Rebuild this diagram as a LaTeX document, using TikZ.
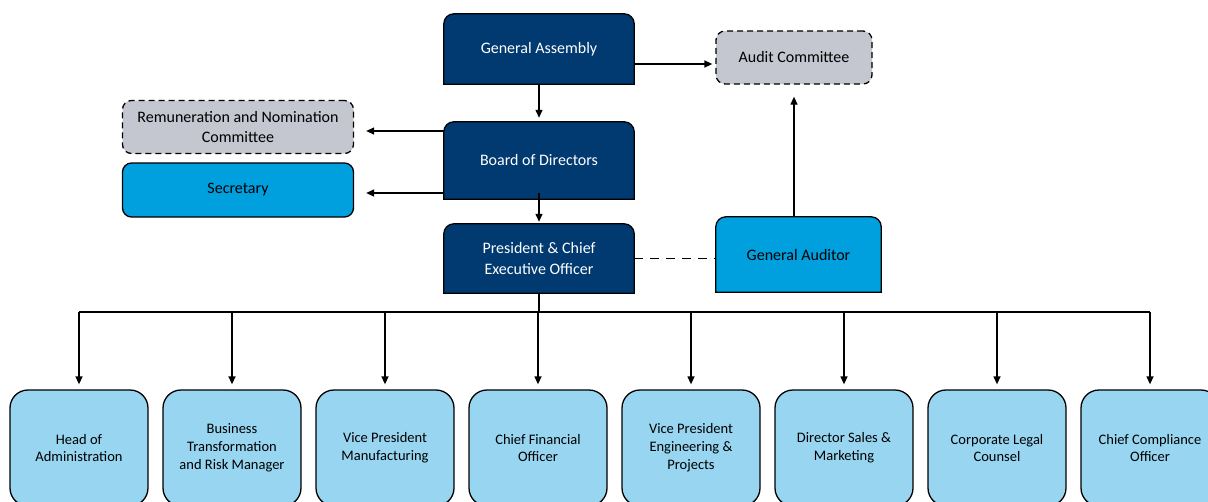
\documentclass[tikz,border=0pt]{standalone}
\usepackage{fontspec}
\setmainfont{Carlito}
\usetikzlibrary{arrows.meta,backgrounds}

\definecolor{navy}{RGB}{0,58,112}
\definecolor{midblue}{RGB}{0,160,223}
\definecolor{paleblue}{RGB}{151,213,240}
\definecolor{panelgray}{RGB}{196,199,207}

\tikzset{
  conn/.style={line width=1.3pt, -{Triangle[length=8pt,width=7pt]}},
  capbox/.style={align=center, inner sep=0pt, font=\fontsize{16}{20.5}\selectfont},
  sidebox/.style={draw, line width=1.3pt, rounded corners=9pt, align=center, inner sep=0pt,
    font=\fontsize{16}{20.5}\selectfont},
  staffbox/.style={draw, line width=1.3pt, fill=paleblue, rounded corners=18pt, align=center,
    minimum width=138pt, minimum height=116pt, inner sep=0pt, font=\fontsize{14.5}{17.8}\selectfont},
}

% outline with rounded top corners only
\newcommand{\capshape}[2]{%
  \begin{scope}[on background layer]
    \draw[line width=1.3pt, fill=#2] (#1.south west) [rounded corners=10pt] -- (#1.north west)
      -- (#1.north east) [sharp corners] -- (#1.south east) -- cycle;
  \end{scope}}

\begin{document}
\begin{tikzpicture}[x=1pt, y=-1pt]
    \useasboundingbox (0,0) rectangle (1208,501);
    \clip (0,0) rectangle (1208,501);

    % governing bodies
    \node[capbox, text=white, minimum width=190pt, minimum height=70pt] (assembly) at (539,49) {General Assembly};
    \capshape{assembly}{navy}
    \node[capbox, text=white, minimum width=190pt, minimum height=77pt] (board) at (539,160.5) {Board of Directors};
    \capshape{board}{navy}
    \node[capbox, text=white, minimum width=190pt, minimum height=69pt] (ceo) at (539,258.5) {President \& Chief\\Executive Officer};
    \capshape{ceo}{navy}
    \node[capbox, minimum width=165pt, minimum height=75pt] (auditor) at (798.5,254.5) {General Auditor};
    \capshape{auditor}{midblue}

    % committees and secretary
    \node[sidebox, fill=panelgray, dash pattern=on 6pt off 4pt, minimum width=156pt, minimum height=53pt] (audit) at (794,57.5) {Audit Committee};
    \node[sidebox, fill=panelgray, dash pattern=on 6pt off 4pt, minimum width=231pt, minimum height=53pt] (remun) at (238,127) {Remuneration and Nomination\\Committee};
    \node[sidebox, fill=midblue, minimum width=231pt, minimum height=54pt] (secretary) at (238,190) {Secretary};

    % reporting lines at the top
    \draw[conn, shorten >=4pt] (assembly.south) -- (board.north);
    \draw[conn, shorten >=3pt] ([yshift=-15pt]assembly.east) -- ([yshift=-15pt]assembly.east -| audit.west);
    \draw[conn, shorten >=12pt] ([yshift=29.5pt]board.west) -- ([yshift=29.5pt]board.west -| remun.east);
    \draw[conn, shorten >=12pt] ([yshift=-32.5pt]board.west) -- ([yshift=-32.5pt]board.west -| secretary.east);
    \draw[conn, shorten >=2pt] ([yshift=6pt]board.south) -- (ceo.north);
    \draw[conn, shorten >=12pt] (audit.south |- auditor.north) -- (audit.south);
    \draw[line width=1.6pt, dash pattern=on 9pt off 7pt] (ceo.east) -- (ceo.east -| auditor.west);

    % executive staff
    \foreach \name/\txt [count=\i from 0] in {
        head/{Head of\\Administration},
        transform/{Business\\Transformation\\and Risk Manager},
        manufact/{Vice President\\Manufacturing},
        cfo/{Chief Financial\\Officer},
        engineer/{Vice President\\Engineering \&\\Projects},
        sales/{Director Sales \&\\Marketing},
        legal/{Corporate Legal\\Counsel},
        compliance/{Chief Compliance\\Officer}}
      \node[staffbox] (\name) at (79+153*\i,448) {\txt};

    \coordinate (bus) at (539,312);
    \draw[line width=1.3pt] (ceo.south) -- (bus);
    \draw[line width=1.3pt] (head.north |- bus) -- (compliance.north |- bus);
    \foreach \name in {head,transform,manufact,cfo,engineer,sales,legal,compliance}
      \draw[conn, shorten >=5pt] (\name.north |- bus) -- (\name.north);

\end{tikzpicture}
\end{document}
